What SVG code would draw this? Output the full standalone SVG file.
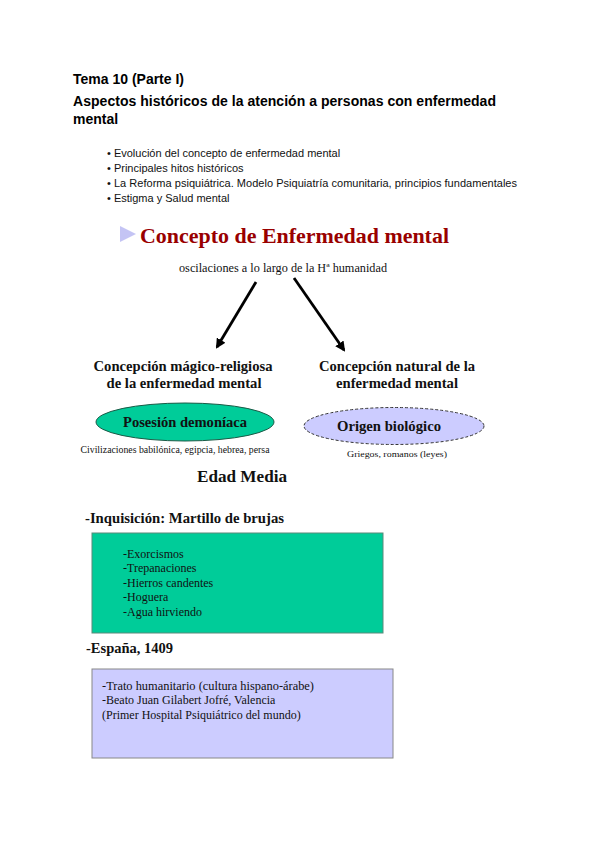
<svg xmlns="http://www.w3.org/2000/svg" width="600" height="848" viewBox="0 0 600 848">
<style>
.h{font-family:"Liberation Sans",Arial,sans-serif;font-weight:bold;font-size:14px;fill:#000}
.b{font-family:"Liberation Sans",Arial,sans-serif;font-size:11px;fill:#111}
.s{font-family:"Liberation Serif","Times New Roman",serif;fill:#111}
.sb{font-family:"Liberation Serif","Times New Roman",serif;font-weight:bold;fill:#111}
.c{text-anchor:middle}
.conn{stroke:#000;stroke-width:2.8;fill:none}
</style>
<defs>
<marker id="ah" viewBox="0 0 10 10" refX="8" refY="5" markerWidth="3.6" markerHeight="3.6" orient="auto">
<path d="M0,0 L10,5 L0,10 z" fill="#000"/>
</marker>
</defs>
<rect width="600" height="848" fill="#fff"/>
<g id="header">
<text class="h" x="73" y="84">Tema 10 (Parte I)</text>
<text class="h" x="73" y="106" textLength="423" lengthAdjust="spacing">Aspectos históricos de la atención a personas con enfermedad</text>
<text class="h" x="73" y="124">mental</text>
<text class="b" x="107" y="157">• Evolución del concepto de enfermedad mental</text>
<text class="b" x="107" y="172">• Principales hitos históricos</text>
<text class="b" x="107" y="187" textLength="410" lengthAdjust="spacing">• La Reforma psiquiátrica. Modelo Psiquiatría comunitaria, principios fundamentales</text>
<text class="b" x="107" y="202">• Estigma y Salud mental</text>
</g>
<g id="title">
<path d="M120,226 L136,234 L120,242 z" fill="#c4c4f4"/>
<text class="sb" x="140" y="243" font-size="22" style="fill:#990000" textLength="309" lengthAdjust="spacingAndGlyphs">Concepto de Enfermedad mental</text>
</g>
<g id="oscilaciones">
<text class="s c" x="283" y="272" font-size="11.5" textLength="208" lengthAdjust="spacingAndGlyphs">oscilaciones a lo largo de la Hª humanidad</text>
</g>
<g id="connectors">
<line class="conn" x1="256" y1="282" x2="217" y2="347" marker-end="url(#ah)"/>
<line class="conn" x1="294" y1="278" x2="344" y2="350" marker-end="url(#ah)"/>
</g>
<g id="magico">
<text class="sb c" x="183" y="371" font-size="15" textLength="179" lengthAdjust="spacingAndGlyphs">Concepción mágico-religiosa</text>
<text class="sb c" x="184" y="388" font-size="15" textLength="155" lengthAdjust="spacingAndGlyphs">de la enfermedad mental</text>
</g>
<g id="natural">
<text class="sb c" x="397" y="371" font-size="15" textLength="156" lengthAdjust="spacingAndGlyphs">Concepción natural de la</text>
<text class="sb c" x="397" y="388" font-size="15" textLength="122" lengthAdjust="spacingAndGlyphs">enfermedad mental</text>
</g>
<g id="posesion">
<ellipse cx="185" cy="422" rx="89" ry="19" fill="#00cc99" stroke="#1a5a46" stroke-width="1"/>
<text class="sb c" x="185" y="427" font-size="14" textLength="124" lengthAdjust="spacingAndGlyphs">Posesión demoníaca</text>
<text class="s c" x="175" y="453" font-size="9.5" textLength="189" lengthAdjust="spacingAndGlyphs">Civilizaciones babilónica, egipcia, hebrea, persa</text>
</g>
<g id="origen">
<ellipse cx="394" cy="426" rx="90" ry="18.5" fill="#ccccff" stroke="#333" stroke-width="1" stroke-dasharray="3,2"/>
<text class="sb c" x="389" y="431" font-size="14" textLength="104" lengthAdjust="spacingAndGlyphs">Origen biológico</text>
<text class="s c" x="397" y="457" font-size="8.5" textLength="100" lengthAdjust="spacingAndGlyphs">Griegos, romanos (leyes)</text>
</g>
<g id="edad-media">
<text class="sb c" x="242" y="482" font-size="16" textLength="90" lengthAdjust="spacingAndGlyphs">Edad Media</text>
</g>
<g id="inquisicion">
<text class="sb" x="85" y="523" font-size="14" textLength="199" lengthAdjust="spacingAndGlyphs">-Inquisición: Martillo de brujas</text>
<rect x="92" y="533" width="291" height="100" fill="#00cc99" stroke="#5a8a7a" stroke-width="1"/>
<text class="s" x="123" y="558" font-size="12">-Exorcismos</text>
<text class="s" x="123" y="572" font-size="12">-Trepanaciones</text>
<text class="s" x="123" y="587" font-size="12">-Hierros candentes</text>
<text class="s" x="123" y="601" font-size="12">-Hoguera</text>
<text class="s" x="123" y="616" font-size="12">-Agua hirviendo</text>
</g>
<g id="espana">
<text class="sb" x="86" y="653" font-size="14" textLength="87" lengthAdjust="spacingAndGlyphs">-España, 1409</text>
<rect x="92" y="669" width="301" height="89" fill="#ccccff" stroke="#888" stroke-width="1"/>
<text class="s" x="102" y="690" font-size="12" textLength="212" lengthAdjust="spacingAndGlyphs">-Trato humanitario (cultura hispano-árabe)</text>
<text class="s" x="102" y="704" font-size="12">-Beato Juan Gilabert Jofré, Valencia</text>
<text class="s" x="102" y="719" font-size="12">(Primer Hospital Psiquiátrico del mundo)</text>
</g>
</svg>
